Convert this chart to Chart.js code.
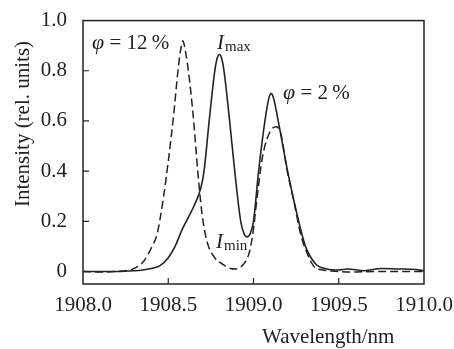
<!DOCTYPE html>
<html>
<head>
<meta charset="utf-8">
<title>Intensity vs wavelength</title>
<script src="https://cdn.jsdelivr.net/npm/chart.js@4/dist/chart.umd.min.js"></script>
<style>
  body { margin: 0; background: #fff; }
  canvas { display: block; }
</style>
</head>
<body>
<canvas id="spectrumChart" width="454" height="349"></canvas>
<script>
// values
const solidX = [1908.0, 1908.1, 1908.2, 1908.3, 1908.35, 1908.4, 1908.45, 1908.5, 1908.54, 1908.58, 1908.61, 1908.65, 1908.69, 1908.71, 1908.74, 1908.773, 1908.787, 1908.8, 1908.813, 1908.827, 1908.86, 1908.89, 1908.925, 1908.945, 1908.963, 1908.98, 1909.0, 1909.03, 1909.067, 1909.09, 1909.104, 1909.118, 1909.145, 1909.2, 1909.265, 1909.305, 1909.365, 1909.43, 1909.5, 1909.55, 1909.65, 1909.75, 1909.85, 1909.95, 1910.0];
const solidY = [0, 0, 0, 0.003, 0.006, 0.012, 0.022, 0.055, 0.1, 0.165, 0.205, 0.26, 0.33, 0.4, 0.6, 0.8, 0.85, 0.865, 0.85, 0.8, 0.6, 0.4, 0.2, 0.15, 0.138, 0.15, 0.2, 0.4, 0.6, 0.69, 0.709, 0.69, 0.6, 0.4, 0.2, 0.1, 0.03, 0.01, 0.006, 0.01, 0.003, 0.012, 0.01, 0.008, 0.002];

const dashX = [1908.0, 1908.1, 1908.2, 1908.26, 1908.3, 1908.355, 1908.405, 1908.435, 1908.473, 1908.502, 1908.531, 1908.557, 1908.572, 1908.586, 1908.6, 1908.62, 1908.649, 1908.673, 1908.698, 1908.727, 1908.767, 1908.806, 1908.865, 1908.894, 1908.943, 1908.973, 1908.996, 1909.022, 1909.051, 1909.08, 1909.11, 1909.135, 1909.16, 1909.198, 1909.237, 1909.276, 1909.316, 1909.355, 1909.414, 1909.5, 1909.6, 1909.7, 1909.8, 1909.9, 1910.0];
const dashY = [0, -0.002, 0, 0.004, 0.012, 0.04, 0.1, 0.15, 0.3, 0.45, 0.62, 0.8, 0.88, 0.92, 0.88, 0.79, 0.6, 0.4, 0.23, 0.12, 0.06, 0.035, 0.012, 0.01, 0.03, 0.07, 0.15, 0.3, 0.45, 0.53, 0.57, 0.577, 0.55, 0.4, 0.28, 0.15, 0.07, 0.02, 0.005, 0, -0.002, 0, 0, 0, 0];

const xTicks = [1908.0, 1908.5, 1909.0, 1909.5, 1910.0];
const yTicks = [0, 0.2, 0.4, 0.6, 0.8, 1.0];

const xTitle = 'Wavelength/nm';
const yTitle = 'Intensity (rel. units)';

const ink = '#222';
const serif = '"Liberation Serif", "DejaVu Serif", serif';

const toPoints = (xs, ys) => xs.map((x, i) => ({ x: x, y: ys[i] }));

// frame, inward ticks, titles and the curve labels
const decorations = {
    id: 'decorations',
    afterDraw(chart) {
        const { ctx, chartArea: a, scales } = chart;
        const sx = scales.x, sy = scales.y;
        ctx.save();
        ctx.strokeStyle = ink;
        ctx.lineWidth = 1.5;
        ctx.strokeRect(a.left, a.top, a.right - a.left, a.bottom - a.top);

        ctx.lineWidth = 1.2;
        ctx.beginPath();
        xTicks.slice(1, -1).forEach(v => {
            const px = sx.getPixelForValue(v);
            ctx.moveTo(px, a.bottom);
            ctx.lineTo(px, a.bottom - 6);
        });
        yTicks.slice(1, -1).forEach(v => {
            const py = sy.getPixelForValue(v);
            ctx.moveTo(a.left, py);
            ctx.lineTo(a.left + 6, py);
        });
        ctx.stroke();

        ctx.fillStyle = ink;
        ctx.font = '21px ' + serif;
        ctx.textBaseline = 'alphabetic';
        ctx.textAlign = 'left';
        ctx.fillText(xTitle, 262, 343);

        ctx.save();
        ctx.translate(29, 124);
        ctx.rotate(-Math.PI / 2);
        ctx.textAlign = 'center';
        ctx.fillText(yTitle, 0, 0);
        ctx.restore();

        // curve labels, placed in data units
        const phiLabel = (x, y, rest) => {
            let px = sx.getPixelForValue(x), py = sy.getPixelForValue(y);
            ctx.font = 'italic 22px ' + serif;
            ctx.fillText('\u03c6', px, py);
            px += ctx.measureText('\u03c6').width;
            ctx.font = '21px ' + serif;
            ctx.fillText(rest, px, py);
        };
        const subLabel = (x, y, sub) => {
            let px = sx.getPixelForValue(x), py = sy.getPixelForValue(y);
            ctx.font = 'italic 21px ' + serif;
            ctx.fillText('I', px, py);
            px += ctx.measureText('I').width + 1;
            ctx.font = '15px ' + serif;
            ctx.fillText(sub, px, py + 2);
        };
        phiLabel(1908.053, 0.885, ' = 12\u2009%');
        subLabel(1908.786, 0.885, 'max');
        phiLabel(1909.173, 0.688, ' = 2\u2009%');
        subLabel(1908.78, 0.095, 'min');
        ctx.restore();
    }
};

const spectrumChart = new Chart(document.getElementById('spectrumChart').getContext('2d'), {
    type: 'scatter',
    data: {
        datasets: [{
            label: 'solid',
            data: toPoints(solidX, solidY),
            showLine: true,
            borderColor: ink,
            borderWidth: 1.6,
            pointRadius: 0,
            cubicInterpolationMode: 'monotone',
            fill: false
        }, {
            label: 'dashed',
            data: toPoints(dashX, dashY),
            showLine: true,
            borderColor: ink,
            borderWidth: 1.5,
            borderDash: [8, 4],
            pointRadius: 0,
            cubicInterpolationMode: 'monotone',
            fill: false
        }]
    },
    options: {
        responsive: false,
        animation: false,
        layout: { padding: { top: 18, right: 30, left: 0, bottom: 0 } },
        plugins: {
            legend: { display: false },
            tooltip: { enabled: false }
        },
        scales: {
            x: {
                type: 'linear',
                min: 1908,
                max: 1910,
                afterBuildTicks: s => { s.ticks = xTicks.map(v => ({ value: v })); },
                afterFit: s => { s.height = 65; },
                grid: { display: false },
                border: { display: false },
                ticks: {
                    color: ink,
                    font: { family: serif, size: 21 },
                    padding: 1,
                    maxRotation: 0,
                    callback: v => v.toFixed(1)
                }
            },
            y: {
                type: 'linear',
                min: -0.05,
                max: 1.0,
                afterBuildTicks: s => { s.ticks = yTicks.map(v => ({ value: v })); },
                afterFit: s => { s.width = 83; },
                grid: { display: false },
                border: { display: false },
                ticks: {
                    color: ink,
                    font: { family: serif, size: 21 },
                    padding: 8,
                    callback: v => v === 0 ? '0' : v.toFixed(1)
                }
            }
        }
    },
    plugins: [decorations]
});
</script>
</body>
</html>
